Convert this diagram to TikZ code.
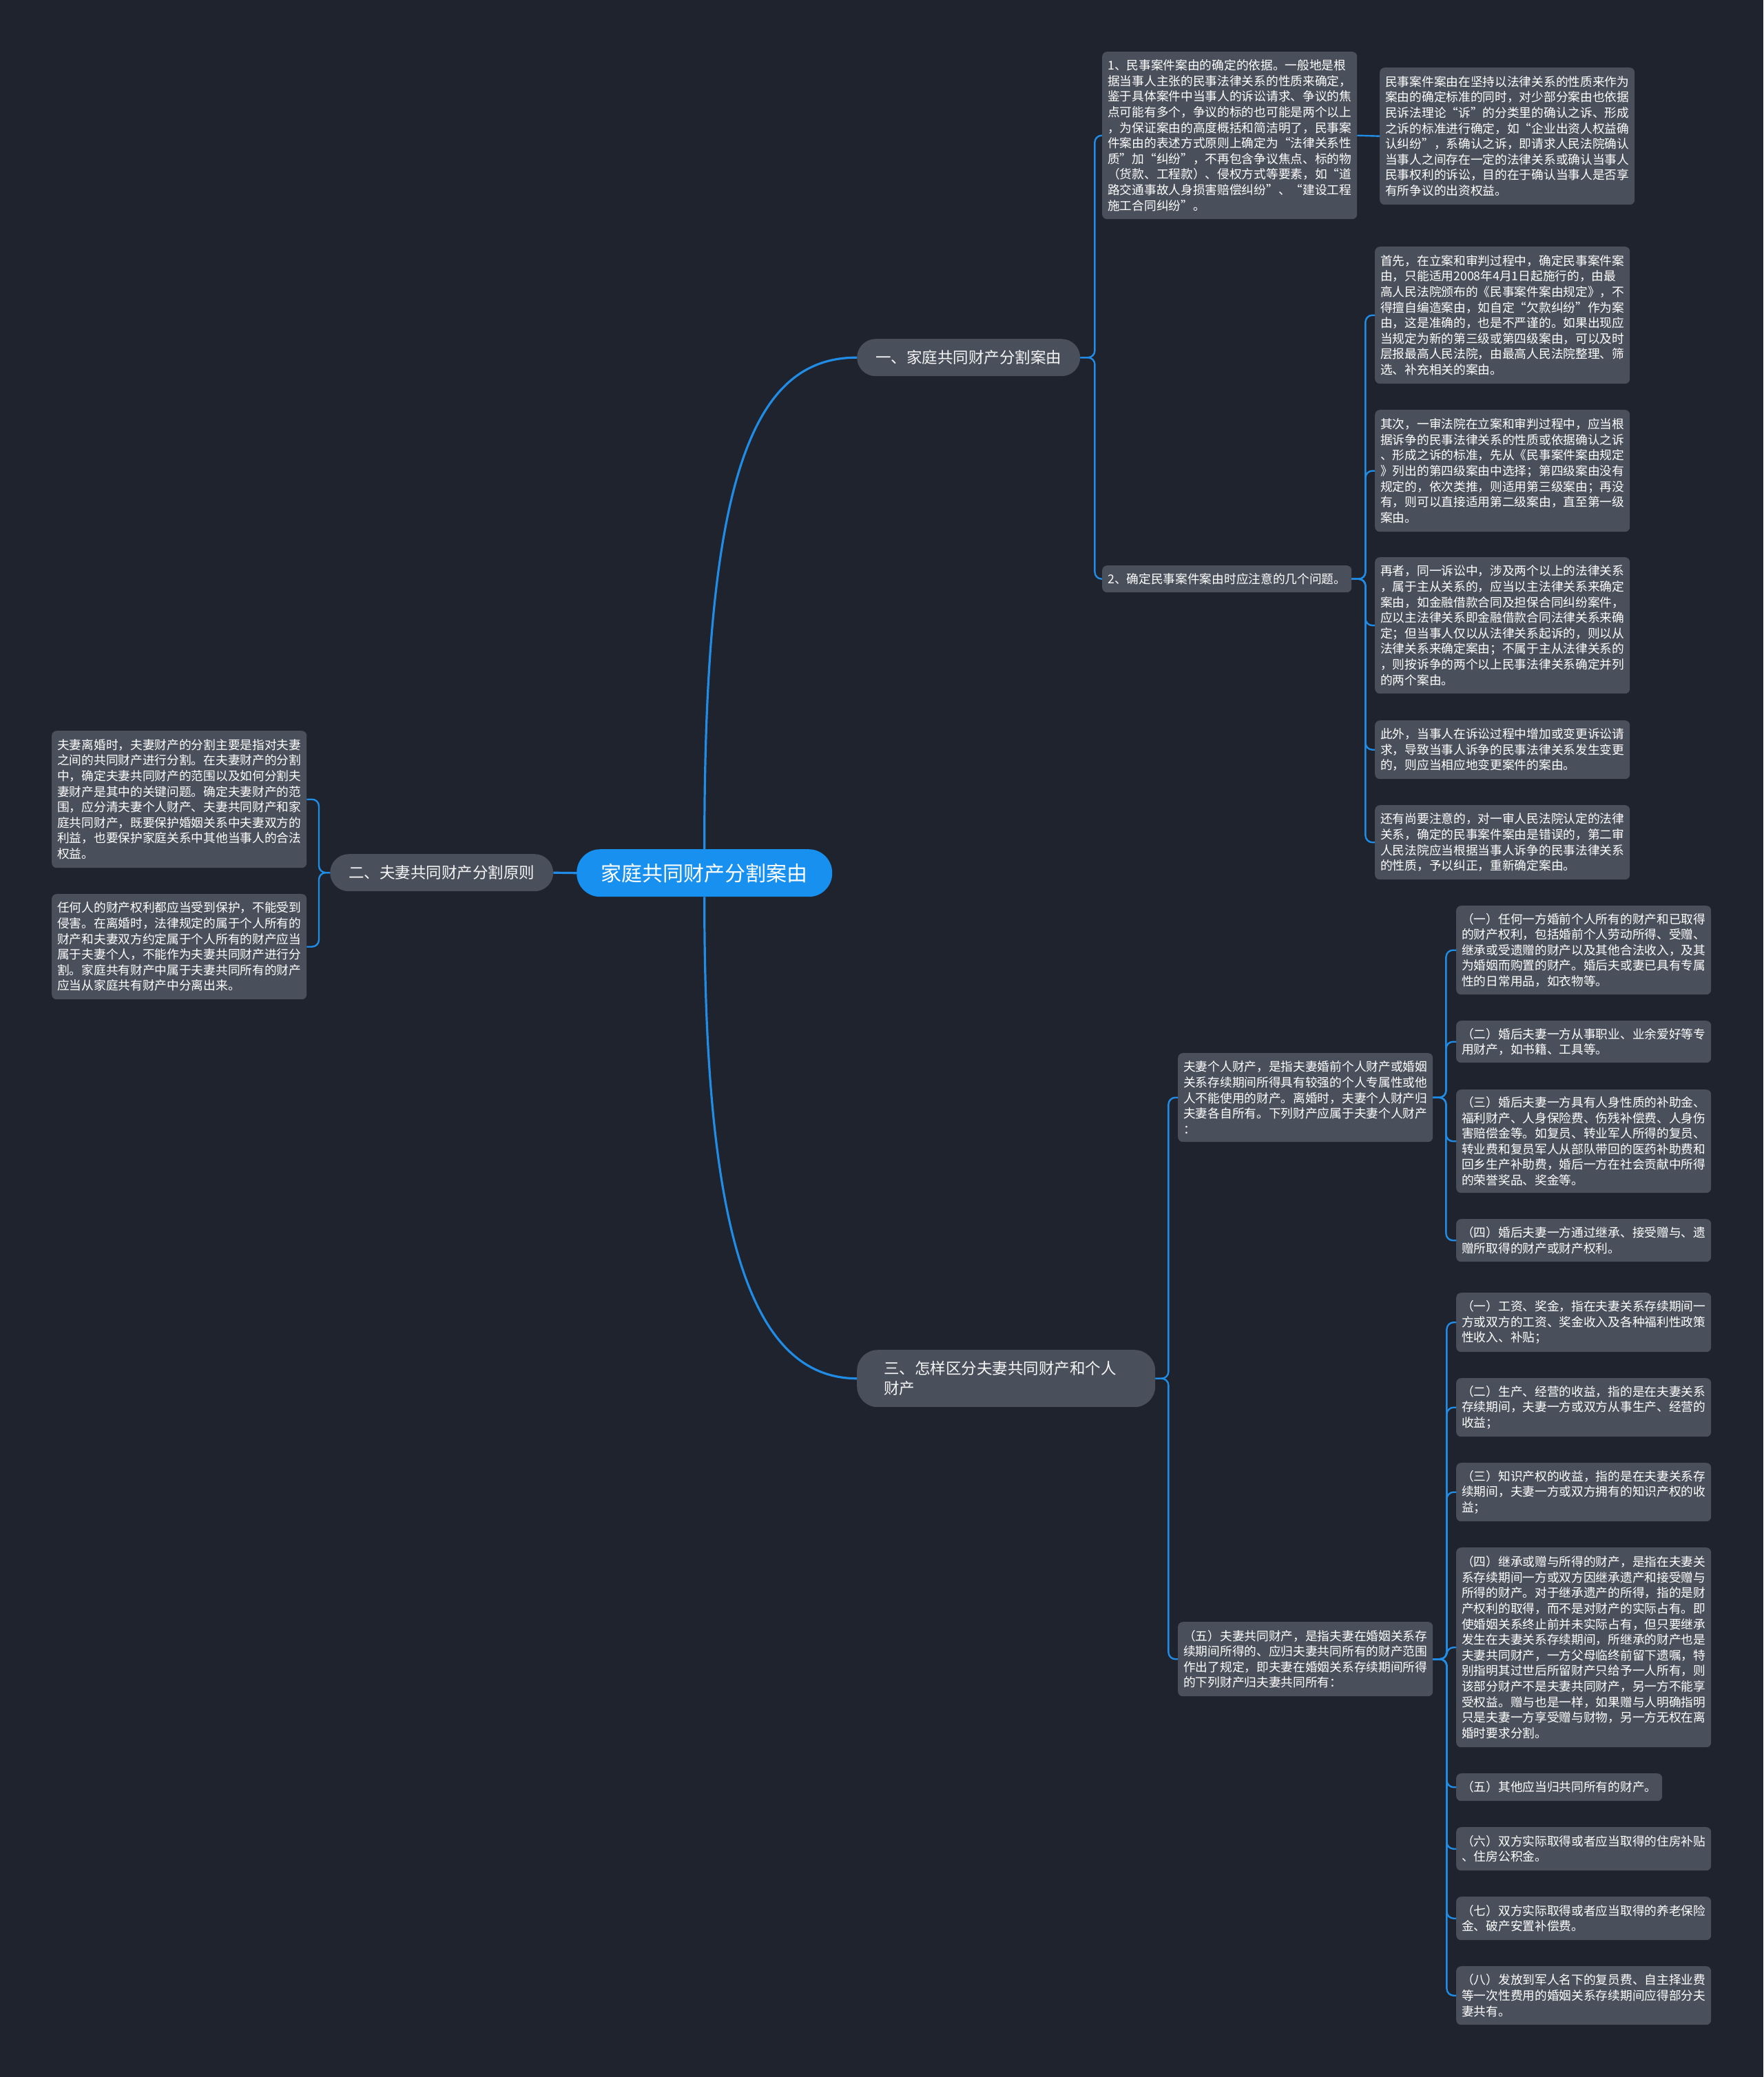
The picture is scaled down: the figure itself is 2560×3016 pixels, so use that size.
\documentclass[tikz,border=0pt]{standalone}
\usepackage{fontspec}
\setmainfont{Noto Sans CJK SC}
\definecolor{bgc}{RGB}{31,35,46}
\definecolor{leafgray}{RGB}{74,79,92}
\definecolor{linkblue}{RGB}{33,140,230}
\definecolor{rootblue}{RGB}{24,144,240}
\begin{document}
\begin{tikzpicture}[x=1pt,y=-1pt,
  leaf/.style={fill=leafgray, rounded corners=7pt, text=white, font=\fontsize{17.7}{22.6}\selectfont,
    align=left, inner xsep=8pt, inner ysep=4pt, anchor=north west, text width=354pt},
  branch/.style={fill=leafgray, rounded corners=27pt, text=white!92!gray, font=\fontsize{22.5}{29}\selectfont,
    minimum width=324pt, minimum height=54pt, inner sep=0pt, anchor=north west},
  rootnode/.style={fill=rootblue, rounded corners=34pt, text=white, font=\fontsize{30}{36}\selectfont,
    minimum width=371pt, minimum height=69pt, inner sep=0pt, anchor=north west},
  link/.style={draw=linkblue, line width=2.4pt, rounded corners=10pt},
  mainlink/.style={draw=linkblue, line width=3.2pt}
]
\fill[bgc] (0,0) rectangle (2560,3016);

% root and branches
\node[rootnode] (root) at (837,1233) {家庭共同财产分割案由};
\node[branch] (n1) at (1244,492) {一、家庭共同财产分割案由};
\node[branch] (n2) at (479,1240) {二、夫妻共同财产分割原则};
\node[branch, rounded corners=30pt, minimum width=0pt, minimum height=83pt, text width=355pt, inner xsep=39pt, align=left] (n3) at (1244,1960) {三、怎样区分夫妻共同财产和个人\\财产};

% branch 1 children
\node[leaf, minimum height=243pt] (a1) at (1600,75) {1、民事案件案由的确定的依据。一般地是根\\据当事人主张的民事法律关系的性质来确定，\\鉴于具体案件中当事人的诉讼请求、争议的焦\\点可能有多个，争议的标的也可能是两个以上\\，为保证案由的高度概括和简洁明了，民事案\\件案由的表述方式原则上确定为“法律关系性\\质”加“纠纷”，不再包含争议焦点、标的物\\（货款、工程款）、侵权方式等要素，如“道\\路交通事故人身损害赔偿纠纷”、“建设工程\\施工合同纠纷”。};
\node[leaf, minimum height=199pt] (a1a) at (2003,98) {民事案件案由在坚持以法律关系的性质来作为\\案由的确定标准的同时，对少部分案由也依据\\民诉法理论“诉”的分类里的确认之诉、形成\\之诉的标准进行确定，如“企业出资人权益确\\认纠纷”，系确认之诉，即请求人民法院确认\\当事人之间存在一定的法律关系或确认当事人\\民事权利的诉讼，目的在于确认当事人是否享\\有所争议的出资权益。};
\node[leaf, text width=346pt, minimum height=39pt] (a2) at (1600,821) {2、确定民事案件案由时应注意的几个问题。};
\node[leaf, minimum height=199pt] (a2a) at (1996,358) {首先，在立案和审判过程中，确定民事案件案\\由，只能适用2008年4月1日起施行的，由最\\高人民法院颁布的《民事案件案由规定》，不\\得擅自编造案由，如自定“欠款纠纷”作为案\\由，这是准确的，也是不严谨的。如果出现应\\当规定为新的第三级或第四级案由，可以及时\\层报最高人民法院，由最高人民法院整理、筛\\选、补充相关的案由。};
\node[leaf, minimum height=177pt] (a2b) at (1996,595) {其次，一审法院在立案和审判过程中，应当根\\据诉争的民事法律关系的性质或依据确认之诉\\、形成之诉的标准，先从《民事案件案由规定\\》列出的第四级案由中选择；第四级案由没有\\规定的，依次类推，则适用第三级案由；再没\\有，则可以直接适用第二级案由，直至第一级\\案由。};
\node[leaf, minimum height=198pt] (a2c) at (1996,809) {再者，同一诉讼中，涉及两个以上的法律关系\\，属于主从关系的，应当以主法律关系来确定\\案由，如金融借款合同及担保合同纠纷案件，\\应以主法律关系即金融借款合同法律关系来确\\定；但当事人仅以从法律关系起诉的，则以从\\法律关系来确定案由；不属于主从法律关系的\\，则按诉争的两个以上民事法律关系确定并列\\的两个案由。};
\node[leaf, minimum height=85pt] (a2d) at (1996,1046) {此外，当事人在诉讼过程中增加或变更诉讼请\\求，导致当事人诉争的民事法律关系发生变更\\的，则应当相应地变更案件的案由。};
\node[leaf, minimum height=108pt] (a2e) at (1996,1169) {还有尚要注意的，对一审人民法院认定的法律\\关系，确定的民事案件案由是错误的，第二审\\人民法院应当根据当事人诉争的民事法律关系\\的性质，予以纠正，重新确定案由。};

% branch 2 children
\node[leaf, minimum height=199pt] (b1) at (75,1061) {夫妻离婚时，夫妻财产的分割主要是指对夫妻\\之间的共同财产进行分割。在夫妻财产的分割\\中，确定夫妻共同财产的范围以及如何分割夫\\妻财产是其中的关键问题。确定夫妻财产的范\\围，应分清夫妻个人财产、夫妻共同财产和家\\庭共同财产，既要保护婚姻关系中夫妻双方的\\利益，也要保护家庭关系中其他当事人的合法\\权益。};
\node[leaf, minimum height=153pt] (b2) at (75,1298) {任何人的财产权利都应当受到保护，不能受到\\侵害。在离婚时，法律规定的属于个人所有的\\财产和夫妻双方约定属于个人所有的财产应当\\属于夫妻个人，不能作为夫妻共同财产进行分\\割。家庭共有财产中属于夫妻共同所有的财产\\应当从家庭共有财产中分离出来。};

% branch 3 children
\node[leaf, minimum height=129pt] (c1) at (1710,1529) {夫妻个人财产，是指夫妻婚前个人财产或婚姻\\关系存续期间所得具有较强的个人专属性或他\\人不能使用的财产。离婚时，夫妻个人财产归\\夫妻各自所有。下列财产应属于夫妻个人财产\\：};
\node[leaf, minimum height=108pt] (c2) at (1710,2355) {（五）夫妻共同财产，是指夫妻在婚姻关系存\\续期间所得的、应归夫妻共同所有的财产范围\\作出了规定，即夫妻在婚姻关系存续期间所得\\的下列财产归夫妻共同所有：};

\node[leaf, minimum height=129pt] (c1a) at (2114,1315) {（一）任何一方婚前个人所有的财产和已取得\\的财产权利，包括婚前个人劳动所得、受赠、\\继承或受遗赠的财产以及其他合法收入，及其\\为婚姻而购置的财产。婚后夫或妻已具有专属\\性的日常用品，如衣物等。};
\node[leaf, minimum height=61pt] (c1b) at (2114,1482) {（二）婚后夫妻一方从事职业、业余爱好等专\\用财产，如书籍、工具等。};
\node[leaf, minimum height=150pt] (c1c) at (2114,1582) {（三）婚后夫妻一方具有人身性质的补助金、\\福利财产、人身保险费、伤残补偿费、人身伤\\害赔偿金等。如复员、转业军人所得的复员、\\转业费和复员军人从部队带回的医药补助费和\\回乡生产补助费，婚后一方在社会贡献中所得\\的荣誉奖品、奖金等。};
\node[leaf, minimum height=62pt] (c1d) at (2114,1770) {（四）婚后夫妻一方通过继承、接受赠与、遗\\赠所取得的财产或财产权利。};

\node[leaf, minimum height=86pt] (c2a) at (2114,1877) {（一）工资、奖金，指在夫妻关系存续期间一\\方或双方的工资、奖金收入及各种福利性政策\\性收入、补贴；};
\node[leaf, minimum height=85pt] (c2b) at (2114,2001) {（二）生产、经营的收益，指的是在夫妻关系\\存续期间，夫妻一方或双方从事生产、经营的\\收益；};
\node[leaf, minimum height=85pt] (c2c) at (2114,2124) {（三）知识产权的收益，指的是在夫妻关系存\\续期间，夫妻一方或双方拥有的知识产权的收\\益；};
\node[leaf, minimum height=290pt] (c2d) at (2114,2247) {（四）继承或赠与所得的财产，是指在夫妻关\\系存续期间一方或双方因继承遗产和接受赠与\\所得的财产。对于继承遗产的所得，指的是财\\产权利的取得，而不是对财产的实际占有。即\\使婚姻关系终止前并未实际占有，但只要继承\\发生在夫妻关系存续期间，所继承的财产也是\\夫妻共同财产，一方父母临终前留下遗嘱，特\\别指明其过世后所留财产只给予一人所有，则\\该部分财产不是夫妻共同财产，另一方不能享\\受权益。赠与也是一样，如果赠与人明确指明\\只是夫妻一方享受赠与财物，另一方无权在离\\婚时要求分割。};
\node[leaf, text width=283pt, minimum height=40pt] (c2e) at (2114,2575) {（五）其他应当归共同所有的财产。};
\node[leaf, minimum height=63pt] (c2f) at (2114,2653) {（六）双方实际取得或者应当取得的住房补贴\\、住房公积金。};
\node[leaf, minimum height=63pt] (c2g) at (2114,2754) {（七）双方实际取得或者应当取得的养老保险\\金、破产安置补偿费。};
\node[leaf, minimum height=85pt] (c2h) at (2114,2855) {（八）发放到军人名下的复员费、自主择业费\\等一次性费用的婚姻关系存续期间应得部分夫\\妻共有。};

% main connectors
\draw[mainlink] (root.north) .. controls (1022,700) and (1090,519) .. (n1.west);
\draw[mainlink] (root.south) .. controls (1022,1790) and (1090,2001) .. (n3.west);
\draw[mainlink] (root.west) -- (n2.east);

% branch 1 connectors
\foreach \c in {a1,a2} \draw[link] (n1.east) -- ++(21,0) |- (\c.west);
\draw[link] (a1.east) -- (a1a.west);
\foreach \c in {a2a,a2b,a2c,a2d,a2e} \draw[link] (a2.east) -- ++(20,0) |- (\c.west);

% branch 2 connectors
\foreach \c in {b1,b2} \draw[link] (n2.west) -- ++(-16,0) |- (\c.east);

% branch 3 connectors
\foreach \c in {c1,c2} \draw[link] (n3.east) -- ++(19,0) |- (\c.west);
\foreach \c in {c1a,c1b,c1c,c1d} \draw[link] (c1.east) -- ++(19,0) |- (\c.west);
\foreach \c in {c2a,c2b,c2c,c2d,c2e,c2f,c2g,c2h} \draw[link] (c2.east) -- ++(20,0) |- (\c.west);
\end{tikzpicture}
\end{document}
